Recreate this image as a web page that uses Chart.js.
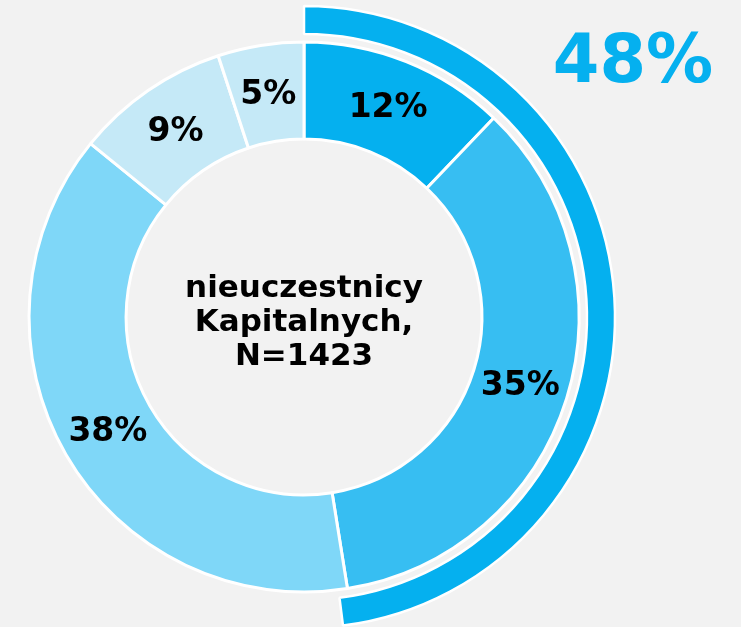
<!DOCTYPE html>
<html lang="pl">
<head>
<meta charset="utf-8">
<title>nieuczestnicy Kapitalnych</title>
<script src="https://cdn.jsdelivr.net/npm/chart.js@4/dist/chart.umd.min.js"></script>
<style>
  html, body { margin:0; padding:0; background:#f2f2f2; }
  body { width:741px; height:627px; position:relative; overflow:hidden; font-family:"DejaVu Sans", Verdana, sans-serif; }
  #wrap { position:absolute; left:-16px; top:-3px; width:640px; height:640px; }
  #center {
    position:absolute; left:154px; top:269px; width:300px;
    text-align:center; font-weight:bold; font-size:31px; line-height:34px; color:#000;
  }
  #share {
    position:absolute; left:533px; top:26px; width:200px;
    text-align:center; font-weight:bold; font-size:67px; line-height:67px; color:#05b0ef;
  }
</style>
</head>
<body>
<div id="wrap"><canvas id="chart" width="640" height="640"></canvas></div>
<div id="center">nieuczestnicy<br>Kapitalnych,<br>N=1423</div>
<div id="share"></div>
<script>
/* pierścień wewnętrzny – rozkład odpowiedzi */
const categories = ['A', 'B', 'C', 'D', 'E'];
const values     = [12, 35, 38, 9, 5];
const colors     = ['#05b0ef', '#37bef2', '#7fd7f8', '#c5e9f7', '#c5e9f7'];

/* zewnętrzny łuk – suma dwóch pierwszych */
const outerValues = [48, 52];
const outerColors = ['#05b0ef', 'rgba(0,0,0,0)'];

document.getElementById('share').textContent = outerValues[0] + '%';

const pctLabels = {
  id: 'pctLabels',
  afterDatasetsDraw(chart) {
    const ctx = chart.ctx;
    const meta = chart.getDatasetMeta(2);
    ctx.save();
    ctx.font = 'bold 33px "DejaVu Sans", Verdana, sans-serif';
    ctx.fillStyle = '#000';
    ctx.textAlign = 'center';
    ctx.textBaseline = 'middle';
    meta.data.forEach((arc, i) => {
      const p = arc.tooltipPosition();
      ctx.fillText(values[i] + '%', p.x, p.y + 2);
    });
    ctx.restore();
  }
};

new Chart(document.getElementById('chart'), {
  type: 'doughnut',
  data: {
    labels: categories,
    datasets: [
      {
        data: outerValues,
        backgroundColor: outerColors,
        borderColor: ['#ffffff', 'rgba(0,0,0,0)'],
        borderWidth: 2.5,
        weight: 28
      },
      {
        data: [1],
        backgroundColor: 'rgba(0,0,0,0)',
        borderWidth: 0,
        weight: 8
      },
      {
        data: values,
        backgroundColor: colors,
        borderColor: '#ffffff',
        borderWidth: 3,
        weight: 97
      }
    ]
  },
  options: {
    responsive: false,
    animation: false,
    radius: 311,
    cutout: '57.2%',
    events: [],
    plugins: { legend: { display: false }, tooltip: { enabled: false } }
  },
  plugins: [pctLabels]
});
</script>
</body>
</html>
